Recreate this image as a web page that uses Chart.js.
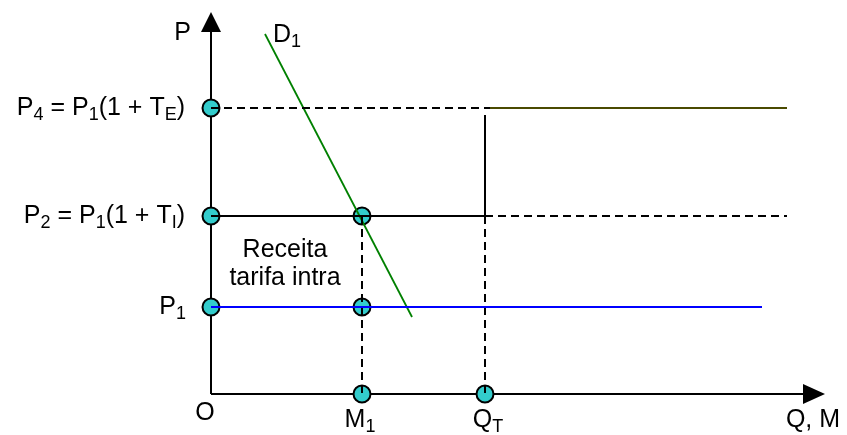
<!DOCTYPE html>
<html>
<head>
<meta charset="utf-8">
<script src="https://cdn.jsdelivr.net/npm/chart.js@4"></script>
<style>
  html, body { margin: 0; padding: 0; background: #fff; }
  #wrap { width: 847px; height: 435px; }
</style>
</head>
<body>
<div id="wrap"><canvas id="diagram"></canvas></div>
<script>
// price levels (vertical axis units) and quantities (horizontal axis units)
const priceNames = ["P1", "P2", "P4"];
const priceValues = [87, 178, 286];
const quantityNames = ["O", "M1", "QT"];
const quantityValues = [0, 151, 274];

// demand curve D1 end points
const demandQ = [54, 201];
const demandP = [360, 77];

// where the horizontal lines stop
const lineEndQ = 576;
const p1LineEndQ = 551;
const p4DashEndQ = 279;
const qtWallTopP = 279;

const axisMaxQ = 614;
const axisMaxP = 382;

const [P1, P2, P4] = priceValues;
const [O, M1, QT] = quantityValues;

function seg(points, color, width, dash) {
  return {
    data: points,
    showLine: true,
    borderColor: color,
    borderWidth: width,
    borderDash: dash || [],
    pointRadius: 0,
    fill: false,
    clip: false,
  };
}

const DASH = [8, 5];

const datasets = [
  seg([{ x: O, y: P4 }, { x: p4DashEndQ, y: P4 }], "#000", 2, DASH),
  seg([{ x: p4DashEndQ, y: P4 }, { x: lineEndQ, y: P4 }], "#4a4a00", 2),
  seg([{ x: QT, y: qtWallTopP }, { x: QT, y: P2 }], "#000", 2),
  seg([{ x: O, y: P2 }, { x: QT, y: P2 }], "#000", 2),
  seg([{ x: QT, y: P2 }, { x: lineEndQ, y: P2 }], "#000", 2, DASH),
  seg([{ x: O, y: P1 }, { x: p1LineEndQ, y: P1 }], "#0000ff", 1.8),
  seg([{ x: M1, y: P2 }, { x: M1, y: 0 }], "#000", 2, DASH),
  seg([{ x: QT, y: P2 }, { x: QT, y: 0 }], "#000", 2, DASH),
  seg(demandQ.map((q, i) => ({ x: q, y: demandP[i] })), "#008000", 1.8),
  {
    data: [
      { x: O, y: P4 }, { x: O, y: P2 }, { x: O, y: P1 },
      { x: M1, y: P2 }, { x: M1, y: P1 }, { x: M1, y: 0 },
      { x: QT, y: 0 },
    ],
    showLine: false,
    pointRadius: 8.5,
    pointBackgroundColor: "#33cccc",
    pointBorderColor: "#000",
    pointBorderWidth: 2,
    clip: false,
  },
];

// draw text with subscript parts: [["P"], ["4", true], [" = P"], ...]
function drawRich(ctx, parts, x, y, align) {
  const big = "25px 'Liberation Sans', Arial, sans-serif";
  const small = "18px 'Liberation Sans', Arial, sans-serif";
  let total = 0;
  parts.forEach(([t, sub]) => {
    ctx.font = sub ? small : big;
    total += ctx.measureText(t).width;
  });
  let cx = align === "right" ? x - total : align === "center" ? x - total / 2 : x;
  ctx.textBaseline = "middle";
  ctx.textAlign = "left";
  parts.forEach(([t, sub]) => {
    ctx.font = sub ? small : big;
    ctx.fillText(t, cx, sub ? y + 7 : y);
    cx += ctx.measureText(t).width;
  });
}

const axesPlugin = {
  id: "econAxes",
  beforeDatasetsDraw(chart) {
    const { ctx } = chart;
    const xs = chart.scales.x;
    const ys = chart.scales.y;
    const ox = xs.getPixelForValue(0);
    const oy = ys.getPixelForValue(0);
    const top = ys.getPixelForValue(axisMaxP);
    const right = xs.getPixelForValue(axisMaxQ);
    ctx.save();
    ctx.strokeStyle = "#000";
    ctx.fillStyle = "#000";
    ctx.lineWidth = 2;
    ctx.beginPath();
    ctx.moveTo(ox, oy);
    ctx.lineTo(ox, top + 18);
    ctx.moveTo(ox, oy);
    ctx.lineTo(right - 18, oy);
    ctx.stroke();
    ctx.beginPath();
    ctx.moveTo(ox, top);
    ctx.lineTo(ox - 10, top + 20);
    ctx.lineTo(ox + 10, top + 20);
    ctx.closePath();
    ctx.fill();
    ctx.beginPath();
    ctx.moveTo(right, oy);
    ctx.lineTo(right - 22, oy - 10);
    ctx.lineTo(right - 22, oy + 10);
    ctx.closePath();
    ctx.fill();
    ctx.restore();
  },
  afterDatasetsDraw(chart) {
    const { ctx } = chart;
    const xs = chart.scales.x;
    const ys = chart.scales.y;
    const px = (q) => xs.getPixelForValue(q);
    const py = (p) => ys.getPixelForValue(p);
    const ox = px(0);
    const oy = py(0);
    ctx.save();
    ctx.fillStyle = "#000";

    drawRich(ctx, [["P"]], ox - 20, py(axisMaxP) + 21, "right");
    drawRich(ctx, [["D"], ["1", true]], px(demandQ[0]) + 8, py(demandP[0]) + 1, "left");

    drawRich(ctx, [["P"], ["4", true], [" = P"], ["1", true], ["(1 + T"], ["E", true], [")"]], ox - 26, py(P4), "right");
    drawRich(ctx, [["P"], ["2", true], [" = P"], ["1", true], ["(1 + T"], ["I", true], [")"]], ox - 26, py(P2), "right");
    drawRich(ctx, [["P"], ["1", true]], ox - 25, py(P1), "right");

    drawRich(ctx, [["Receita"]], ox + 74, py(P2) + 34, "center");
    drawRich(ctx, [["tarifa intra"]], ox + 74, py(P2) + 62, "center");

    drawRich(ctx, [["O"]], ox - 6, oy + 19, "center");
    drawRich(ctx, [["M"], ["1", true]], px(M1) - 2, oy + 26, "center");
    drawRich(ctx, [["Q"], ["T", true]], px(QT) + 3, oy + 26, "center");
    drawRich(ctx, [["Q, M"]], px(axisMaxQ) - 12, oy + 26, "center");
    ctx.restore();
  },
};

new Chart(document.getElementById("diagram"), {
  type: "scatter",
  data: { datasets },
  options: {
    responsive: true,
    maintainAspectRatio: false,
    animation: false,
    layout: { padding: { left: 211, top: 12, right: 22, bottom: 41 } },
    plugins: {
      legend: { display: false },
      tooltip: { enabled: false },
    },
    scales: {
      x: { type: "linear", min: 0, max: axisMaxQ, display: false },
      y: { type: "linear", min: 0, max: axisMaxP, display: false },
    },
  },
  plugins: [axesPlugin],
});
</script>
</body>
</html>
